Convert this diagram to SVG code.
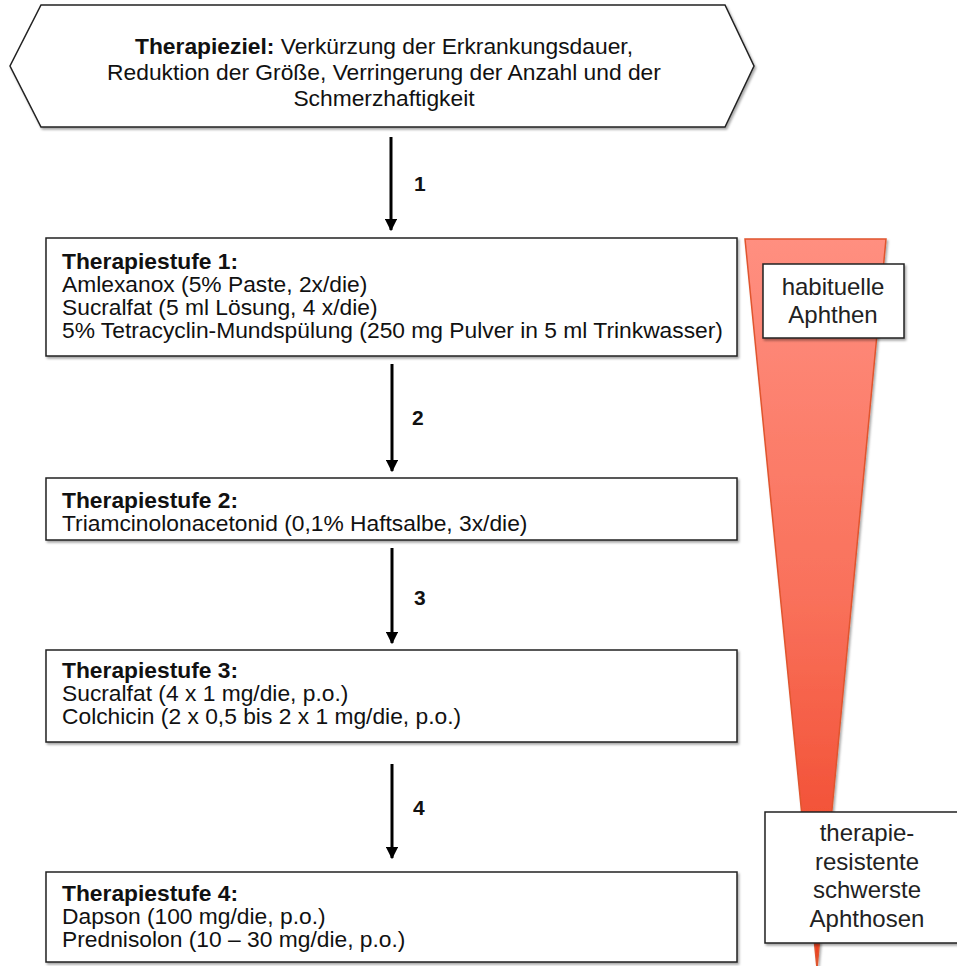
<svg xmlns="http://www.w3.org/2000/svg" width="957" height="966" viewBox="0 0 957 966">
<style>
.box{fill:#fff;stroke:#222;stroke-width:1.5;filter:url(#sh)}
.t{font-family:"Liberation Sans",Arial,sans-serif;font-size:22.8px;fill:#111}
.b{font-weight:bold}
.lab{font-family:"Liberation Sans",Arial,sans-serif;font-size:24px;fill:#222;text-anchor:middle}
.num{font-family:"Liberation Sans",Arial,sans-serif;font-size:21px;font-weight:bold;fill:#111}
.arr{stroke:#000;stroke-width:3;fill:none;marker-end:url(#ah)}
</style>
<defs>
<filter id="sh" x="-5%" y="-5%" width="110%" height="115%">
<feDropShadow dx="1.5" dy="2" stdDeviation="1.2" flood-color="#000" flood-opacity="0.35"/>
</filter>
<linearGradient id="rg" x1="0" y1="0" x2="0" y2="1">
<stop offset="0" stop-color="#FF8F80"/>
<stop offset="0.5" stop-color="#F9705A"/>
<stop offset="1" stop-color="#EE3E20"/>
</linearGradient>
<marker id="ah" viewBox="0 0 10 10" refX="9" refY="5" markerWidth="4.2" markerHeight="4.2" orient="auto" markerUnits="strokeWidth">
<path d="M0,0 L10,5 L0,10 Z" fill="#000"/>
</marker>
</defs>

<g id="goal">
<polygon class="box" points="41,5 725,5 754,66 725,127 41,127 10,66"/>
<text class="t" text-anchor="middle" x="384" y="54"><tspan class="b">Therapieziel:</tspan> Verkürzung der Erkrankungsdauer,</text>
<text class="t" text-anchor="middle" x="384" y="80">Reduktion der Größe, Verringerung der Anzahl und der</text>
<text class="t" text-anchor="middle" x="384" y="106">Schmerzhaftigkeit</text>
</g>

<g id="severity">
<polygon points="745,239 886,239 817,968" fill="url(#rg)" stroke="#E0552F" stroke-width="1.5" filter="url(#sh)"/>
</g>

<g id="connectors">
<line class="arr" x1="391" y1="137" x2="391" y2="230"/>
<line class="arr" x1="392" y1="364" x2="392" y2="471"/>
<line class="arr" x1="392" y1="548" x2="392" y2="643"/>
<line class="arr" x1="392" y1="764" x2="392" y2="858"/>
<text class="num" x="414" y="191">1</text>
<text class="num" x="412" y="425">2</text>
<text class="num" x="414" y="605">3</text>
<text class="num" x="413" y="815">4</text>
</g>

<g id="stufe1">
<rect class="box" x="46" y="238" width="691" height="118"/>
<text class="t b" x="62" y="269">Therapiestufe 1:</text>
<text class="t" x="62" y="292">Amlexanox (5% Paste, 2x/die)</text>
<text class="t" x="62" y="315">Sucralfat (5 ml Lösung, 4 x/die)</text>
<text class="t" x="62" y="338">5% Tetracyclin-Mundspülung (250 mg Pulver in 5 ml Trinkwasser)</text>
</g>

<g id="stufe2">
<rect class="box" x="46" y="478" width="691" height="62"/>
<text class="t b" x="62" y="508">Therapiestufe 2:</text>
<text class="t" x="62" y="531">Triamcinolonacetonid (0,1% Haftsalbe, 3x/die)</text>
</g>

<g id="stufe3">
<rect class="box" x="46" y="650" width="691" height="92"/>
<text class="t b" x="62" y="678">Therapiestufe 3:</text>
<text class="t" x="62" y="701">Sucralfat (4 x 1 mg/die, p.o.)</text>
<text class="t" x="62" y="724">Colchicin (2 x 0,5 bis 2 x 1 mg/die, p.o.)</text>
</g>

<g id="stufe4">
<rect class="box" x="46" y="872" width="691" height="90"/>
<text class="t b" x="62" y="901">Therapiestufe 4:</text>
<text class="t" x="62" y="924">Dapson (100 mg/die, p.o.)</text>
<text class="t" x="62" y="947">Prednisolon (10 – 30 mg/die, p.o.)</text>
</g>

<g id="label-habituell">
<rect class="box" x="763" y="264" width="141" height="74"/>
<text class="lab" x="833" y="295">habituelle</text>
<text class="lab" x="833" y="323">Aphthen</text>
</g>

<g id="label-resistent">
<rect class="box" x="765" y="812" width="200" height="131"/>
<text class="lab" x="867" y="841">therapie-</text>
<text class="lab" x="867" y="870">resistente</text>
<text class="lab" x="867" y="898">schwerste</text>
<text class="lab" x="867" y="927">Aphthosen</text>
</g>
</svg>
